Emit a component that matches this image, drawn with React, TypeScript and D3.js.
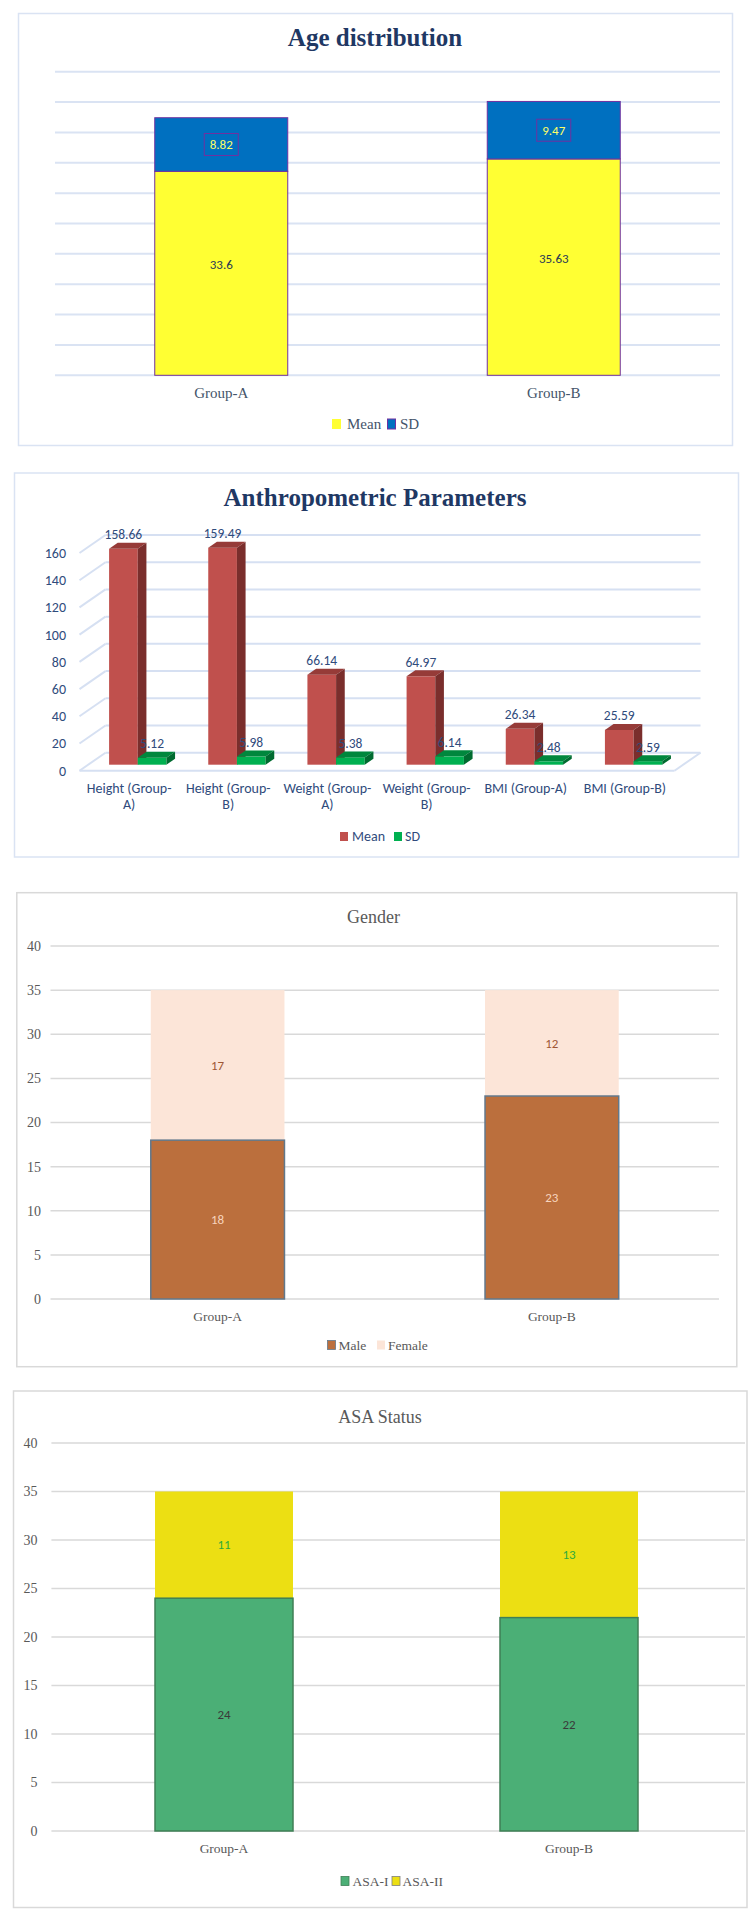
import React from 'react';
import * as d3 from 'd3';

const SERIF = '"Liberation Serif", "Times New Roman", serif';
const SANS = 'Carlito, Calibri, Lato, "Noto Sans", sans-serif';

// Age distribution
const ageGroups = ['Group-A', 'Group-B'];
const ageMean = [33.6, 35.63];
const ageSD = [8.82, 9.47];

// Anthropometric parameters
const anthroCats = ['Height (Group-A)', 'Height (Group-B)', 'Weight (Group-A)', 'Weight (Group-B)', 'BMI (Group-A)', 'BMI (Group-B)'];
const anthroMean = [158.66, 159.49, 66.14, 64.97, 26.34, 25.59];
const anthroSD = [5.12, 5.98, 5.38, 6.14, 2.48, 2.59];
const anthroTicks = [0, 20, 40, 60, 80, 100, 120, 140, 160];

// Gender
const genderGroups = ['Group-A', 'Group-B'];
const maleCount = [18, 23];
const femaleCount = [17, 12];

// ASA status
const asaGroups = ['Group-A', 'Group-B'];
const asa1 = [24, 22];
const asa2 = [11, 13];

const countTicks = [0, 5, 10, 15, 20, 25, 30, 35, 40];

// split long category names after the last hyphen, like Excel wraps them
const wrapLabel = (s: string) => {
  if (s.length <= 13) return [s];
  const k = s.lastIndexOf('-');
  return [s.slice(0, k + 1), s.slice(k + 1)];
};

function AgeChart() {
  const x = d3.scaleBand<string>().domain(ageGroups).range([55, 720]).paddingInner(0.6).paddingOuter(0.3);
  const y = d3.scaleLinear().domain([0, 50]).range([375.3, 71.7]);
  const grid = d3.range(0, 51, 5);
  return (
    <g>
      <rect x={18.5} y={13.5} width={714} height={432} fill="#fff" stroke="#DAE3F3" strokeWidth={1.5} />
      <text x={375} y={46} textAnchor="middle" fontFamily={SERIF} fontWeight="bold" fontSize={25} fill="#1F3864">
        Age distribution
      </text>
      {grid.map(t => (
        <line key={t} x1={55} x2={720} y1={y(t)} y2={y(t)} stroke="#DAE3F3" strokeWidth={2} />
      ))}
      {ageGroups.map((g, i) => {
        const bx = x(g)!;
        const bw = x.bandwidth();
        const m = ageMean[i];
        const s = ageSD[i];
        const cx = bx + bw / 2;
        const sy = (y(m) + y(m + s)) / 2;
        return (
          <g key={g}>
            <rect x={bx} y={y(m)} width={bw} height={y(0) - y(m)} fill="#FFFF33" stroke="#7030A0" strokeWidth={1} />
            <rect x={bx} y={y(m + s)} width={bw} height={y(m) - y(m + s)} fill="#0070C0" stroke="#7030A0" strokeWidth={1} />
            <text x={cx} y={(y(0) + y(m)) / 2 - 9} dy="0.35em" textAnchor="middle" fontFamily={SANS} fontSize={13} fill="#2B3A55">
              {m}
            </text>
            <rect x={cx - 17} y={sy - 11} width={34} height={22} fill="none" stroke="#7030A0" strokeWidth={1} />
            <text x={cx} y={sy} dy="0.35em" textAnchor="middle" fontFamily={SANS} fontSize={13} fill="#FFFF66">
              {s}
            </text>
            <text x={cx} y={398} textAnchor="middle" fontFamily={SERIF} fontSize={15} fill="#44546A">
              {g}
            </text>
          </g>
        );
      })}
      <rect x={332} y={419} width={9} height={10} fill="#FFFF33" />
      <text x={347} y={429} fontFamily={SERIF} fontSize={15} fill="#44546A">Mean</text>
      <rect x={387.5} y={419} width={8} height={10} fill="#0070C0" stroke="#7030A0" strokeWidth={1} />
      <text x={400} y={429} fontFamily={SERIF} fontSize={15} fill="#44546A">SD</text>
    </g>
  );
}

function AnthroChart() {
  const X0 = 79.5;
  const X1 = 674.5;
  const DX = 26;
  const DY = -18;
  const x0 = d3.scaleBand<string>().domain(anthroCats).range([X0, X1]);
  const x1 = d3.scaleBand<number>().domain([0, 1]).range([0, x0.bandwidth()]).paddingInner(0).paddingOuter(0.73);
  const y = d3.scaleLinear().domain([0, 160]).range([770.7, 553]);
  const ox = DX / 3;
  const oy = DY / 3;
  const textCol = '#2F4B7C';
  const series = [
    { vals: anthroMean, front: '#C0504D', top: '#963B38', side: '#7A2E2C' },
    { vals: anthroSD, front: '#00B050', top: '#00873D', side: '#006B30' },
  ];

  const bar = (cat: string, si: number, v: number) => {
    const c = series[si];
    const w = x1.bandwidth();
    const fx = x0(cat)! + x1(si)! + ox;
    const fy0 = y(0) + oy;
    const fyT = y(v) + oy;
    return (
      <g key={cat + si}>
        <rect x={fx} y={fyT} width={w} height={fy0 - fyT} fill={c.front} />
        <polygon
          points={`${fx},${fyT} ${fx + w},${fyT} ${fx + w + ox},${fyT + oy} ${fx + ox},${fyT + oy}`}
          fill={c.top}
        />
        <polygon
          points={`${fx + w},${fyT} ${fx + w + ox},${fyT + oy} ${fx + w + ox},${fy0 + oy} ${fx + w},${fy0}`}
          fill={c.side}
        />
      </g>
    );
  };

  const label = (cat: string, si: number, v: number) => {
    const w = x1.bandwidth();
    const fx = x0(cat)! + x1(si)! + ox;
    return (
      <text key={'l' + cat + si} x={fx + w / 2} y={y(v) + oy - 9.5} textAnchor="middle" fontFamily={SANS} fontSize={13.5} fill={textCol}>
        {v.toFixed(2)}
      </text>
    );
  };

  return (
    <g>
      <rect x={14.5} y={473} width={724} height={384} fill="#fff" stroke="#DAE3F3" strokeWidth={1.5} />
      <text x={375} y={506} textAnchor="middle" fontFamily={SERIF} fontWeight="bold" fontSize={25} fill="#1F3864">
        Anthropometric Parameters
      </text>
      {anthroTicks.map(t => (
        <g key={t}>
          <line x1={X0 + DX} x2={X1 + DX} y1={y(t) + DY} y2={y(t) + DY} stroke="#D6E0F2" strokeWidth={2} />
          <line x1={X0} x2={X0 + DX} y1={y(t)} y2={y(t) + DY} stroke="#D6E0F2" strokeWidth={2} />
          <text x={66} y={y(t)} dy="0.35em" textAnchor="end" fontFamily={SANS} fontSize={14} fill={textCol}>
            {t}
          </text>
        </g>
      ))}
      <line x1={X0} x2={X1} y1={y(0)} y2={y(0)} stroke="#D6E0F2" strokeWidth={2} />
      <line x1={X1} x2={X1 + DX} y1={y(0)} y2={y(0) + DY} stroke="#D6E0F2" strokeWidth={2} />
      {anthroCats.map((c, i) => [bar(c, 0, anthroMean[i]), bar(c, 1, anthroSD[i])])}
      {anthroCats.map((c, i) => [label(c, 0, anthroMean[i]), label(c, 1, anthroSD[i])])}
      {anthroCats.map(c => (
        <text key={'c' + c} x={x0(c)! + x0.bandwidth() / 2} y={793} textAnchor="middle" fontFamily={SANS} fontSize={14} fill={textCol}>
          {wrapLabel(c).map((ln, k) => (
            <tspan key={k} x={x0(c)! + x0.bandwidth() / 2} dy={k === 0 ? 0 : 16}>
              {ln}
            </tspan>
          ))}
        </text>
      ))}
      <rect x={340} y={832} width={8} height={9} fill="#C0504D" />
      <text x={352} y={841} fontFamily={SANS} fontSize={14} fill={textCol}>Mean</text>
      <rect x={394} y={832} width={8} height={9} fill="#00B050" />
      <text x={405} y={841} fontFamily={SANS} fontSize={14} fill={textCol}>SD</text>
    </g>
  );
}

interface StackProps {
  frame: [number, number, number, number];
  title: string;
  titleX: number;
  titleY: number;
  groups: string[];
  lower: number[];
  upper: number[];
  yRange: [number, number];
  xRange: [number, number];
  gridX: [number, number];
  tickRight: number;
  lowerFill: string;
  lowerStroke: string;
  upperFill: string;
  lowerText: string;
  upperText: string;
  catY: number;
  legend: { names: [string, string]; y: number; sq: [number, number]; tx: [number, number]; upperStroke?: string };
}

function StackChart(p: StackProps) {
  const x = d3.scaleBand<string>().domain(p.groups).range(p.xRange).paddingInner(0.6).paddingOuter(0.3);
  const y = d3.scaleLinear().domain([0, 40]).range(p.yRange);
  const [fx, fy, fw, fh] = p.frame;
  return (
    <g>
      <rect x={fx} y={fy} width={fw} height={fh} fill="#fff" stroke="#D9D9D9" strokeWidth={1.5} />
      <text x={p.titleX} y={p.titleY} textAnchor="middle" fontFamily={SERIF} fontSize={18} fill="#595959">
        {p.title}
      </text>
      {countTicks.map(t => (
        <g key={t}>
          <line x1={p.gridX[0]} x2={p.gridX[1]} y1={y(t)} y2={y(t)} stroke="#D9D9D9" strokeWidth={1.5} />
          <text x={p.tickRight} y={y(t)} dy="0.35em" textAnchor="end" fontFamily={SERIF} fontSize={14} fill="#595959">
            {t}
          </text>
        </g>
      ))}
      {p.groups.map((g, i) => {
        const bx = x(g)!;
        const bw = x.bandwidth();
        const lo = p.lower[i];
        const up = p.upper[i];
        const cx = bx + bw / 2;
        return (
          <g key={g}>
            <rect x={bx} y={y(lo + up)} width={bw} height={y(lo) - y(lo + up)} fill={p.upperFill} />
            <rect x={bx} y={y(lo)} width={bw} height={y(0) - y(lo)} fill={p.lowerFill} stroke={p.lowerStroke} strokeWidth={1.5} />
            <text x={cx} y={(y(lo) + y(lo + up)) / 2} dy="0.35em" textAnchor="middle" fontFamily={SANS} fontSize={13} fill={p.upperText}>
              {up}
            </text>
            <text x={cx} y={(y(0) + y(lo)) / 2} dy="0.35em" textAnchor="middle" fontFamily={SANS} fontSize={13} fill={p.lowerText}>
              {lo}
            </text>
            <text x={cx} y={p.catY} textAnchor="middle" fontFamily={SERIF} fontSize={13.5} fill="#595959">
              {g}
            </text>
          </g>
        );
      })}
      <rect x={p.legend.sq[0]} y={p.legend.y - 4.5} width={8} height={9} fill={p.lowerFill} stroke={p.lowerStroke} strokeWidth={0.8} />
      <text x={p.legend.tx[0]} y={p.legend.y} dy="0.35em" fontFamily={SERIF} fontSize={13.5} fill="#595959">
        {p.legend.names[0]}
      </text>
      <rect
        x={p.legend.sq[1]}
        y={p.legend.y - 4.5}
        width={8}
        height={9}
        fill={p.upperFill}
        stroke={p.legend.upperStroke ?? 'none'}
        strokeWidth={0.8}
      />
      <text x={p.legend.tx[1]} y={p.legend.y} dy="0.35em" fontFamily={SERIF} fontSize={13.5} fill="#595959">
        {p.legend.names[1]}
      </text>
    </g>
  );
}

export default function App() {
  return (
    <svg
      width={750}
      height={1922}
      style={{ position: 'absolute', left: 0, top: 0, background: '#fff' }}
      xmlns="http://www.w3.org/2000/svg"
    >
      <rect width={750} height={1922} fill="#fff" />
      <AgeChart />
      <AnthroChart />
      <StackChart
        frame={[16.8, 892.7, 720, 474]}
        title="Gender"
        titleX={373.5}
        titleY={923}
        groups={genderGroups}
        lower={maleCount}
        upper={femaleCount}
        yRange={[1299, 946]}
        xRange={[50.5, 719]}
        gridX={[50.5, 719]}
        tickRight={41}
        lowerFill="#BB6F3D"
        lowerStroke="#62788B"
        upperFill="#FCE5D8"
        lowerText="#F8D5BF"
        upperText="#9E5634"
        catY={1321}
        legend={{ names: ['Male', 'Female'], y: 1345, sq: [327.5, 377], tx: [338.5, 388] }}
      />
      <StackChart
        frame={[13.5, 1391, 733.5, 516.5]}
        title="ASA Status"
        titleX={380}
        titleY={1423}
        groups={asaGroups}
        lower={asa1}
        upper={asa2}
        yRange={[1831, 1443]}
        xRange={[51.5, 741.5]}
        gridX={[51.4, 745]}
        tickRight={37.5}
        lowerFill="#4BAF76"
        lowerStroke="#3F7F56"
        upperFill="#ECDF13"
        lowerText="#3A3A3A"
        upperText="#2EAA3C"
        catY={1853}
        legend={{ names: ['ASA-I', 'ASA-II'], y: 1881, sq: [341, 392], tx: [352.5, 402.5], upperStroke: '#7F7F7F' }}
      />
    </svg>
  );
}
